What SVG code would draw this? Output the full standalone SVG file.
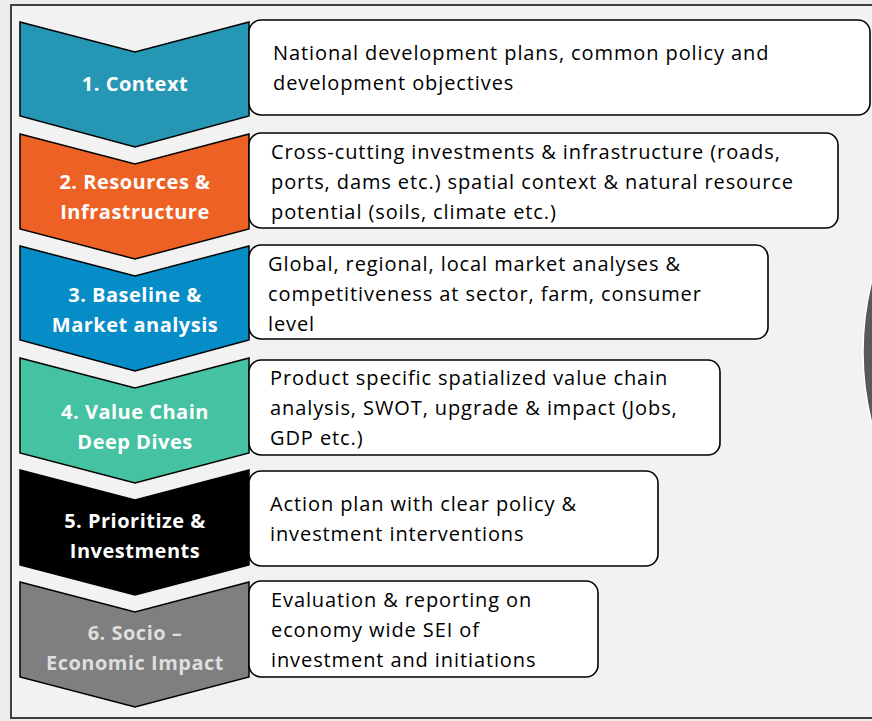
<svg xmlns="http://www.w3.org/2000/svg" width="872" height="721" viewBox="0 0 872 721">
<style>
.chev{stroke:#000;stroke-width:1.5;stroke-linejoin:miter}
.box{fill:#fff;stroke:#000;stroke-width:1.6}
.lbl{font-family:"Open Sans","Liberation Sans",sans-serif;font-weight:bold;font-size:20px;letter-spacing:0.5px;fill:#fff;text-anchor:middle}
.txt{font-family:"Open Sans","Liberation Sans",sans-serif;font-size:20px;letter-spacing:0.9px;fill:#000}
</style>
<rect x="0" y="0" width="872" height="721" fill="#ececec"/>
<rect x="11" y="5" width="880" height="713" fill="#f2f2f2" stroke="#404040" stroke-width="2"/>
<circle cx="1155" cy="352" r="292" fill="#595959" stroke="#fff" stroke-width="1.5"/>
<g id="step1">
<path class="chev" fill="#2696b5" d="M20 22 L135 52 L249 22 L249 116 L135 147 L20 116 Z"/>
<text class="lbl" x="135" y="91">1. Context</text>
<rect class="box" x="249" y="20" width="621" height="95" rx="12"/>
<text class="txt" x="273" y="60">National development plans, common policy and</text>
<text class="txt" x="273" y="90">development objectives</text>
</g>
<g id="step2">
<path class="chev" fill="#ee6124" d="M20 134 L135 164 L249 134 L249 229 L135 259 L20 229 Z"/>
<text class="lbl" x="135" y="189">2. Resources &amp;</text>
<text class="lbl" x="135" y="219">Infrastructure</text>
<rect class="box" x="249" y="133" width="589" height="95" rx="12"/>
<text class="txt" x="271" y="159">Cross-cutting investments &amp; infrastructure (roads,</text>
<text class="txt" x="271" y="189">ports, dams etc.) spatial context &amp; natural resource</text>
<text class="txt" x="271" y="219">potential (soils, climate etc.)</text>
</g>
<g id="step3">
<path class="chev" fill="#068cc7" d="M20 246 L135 276 L249 246 L249 340 L135 371 L20 340 Z"/>
<text class="lbl" x="135" y="302">3. Baseline &amp;</text>
<text class="lbl" x="135" y="332">Market analysis</text>
<rect class="box" x="249" y="245" width="519" height="94" rx="12"/>
<text class="txt" x="268" y="271">Global, regional, local market analyses &amp;</text>
<text class="txt" x="268" y="301">competitiveness at sector, farm, consumer</text>
<text class="txt" x="268" y="331">level</text>
</g>
<g id="step4">
<path class="chev" fill="#45c2a1" d="M20 358 L135 388 L249 358 L249 453 L135 483 L20 453 Z"/>
<text class="lbl" x="135" y="419">4. Value Chain</text>
<text class="lbl" x="135" y="449">Deep Dives</text>
<rect class="box" x="249" y="360" width="471" height="95" rx="12"/>
<text class="txt" x="270" y="385">Product specific spatialized value chain</text>
<text class="txt" x="270" y="415">analysis, SWOT, upgrade &amp; impact (Jobs,</text>
<text class="txt" x="270" y="445">GDP etc.)</text>
</g>
<g id="step5">
<path class="chev" fill="#000" d="M20 470 L135 500 L249 470 L249 565 L135 595 L20 565 Z"/>
<text class="lbl" x="135" y="528">5. Prioritize &amp;</text>
<text class="lbl" x="135" y="558">Investments</text>
<rect class="box" x="249" y="471" width="409" height="95" rx="12"/>
<text class="txt" x="270" y="511">Action plan with clear policy &amp;</text>
<text class="txt" x="270" y="541">investment interventions</text>
</g>
<g id="step6">
<path class="chev" fill="#7f7f7f" d="M20 582 L135 612 L249 582 L249 677 L135 707 L20 677 Z"/>
<text class="lbl" x="135" y="640" style="fill:#dedede">6. Socio –</text>
<text class="lbl" x="135" y="670" style="fill:#dedede">Economic  Impact</text>
<rect class="box" x="249" y="581" width="349" height="96" rx="12"/>
<text class="txt" x="271" y="607">Evaluation &amp; reporting on</text>
<text class="txt" x="271" y="637">economy wide SEI of</text>
<text class="txt" x="271" y="667">investment and initiations</text>
</g>
<g id="connectors"/>
</svg>
